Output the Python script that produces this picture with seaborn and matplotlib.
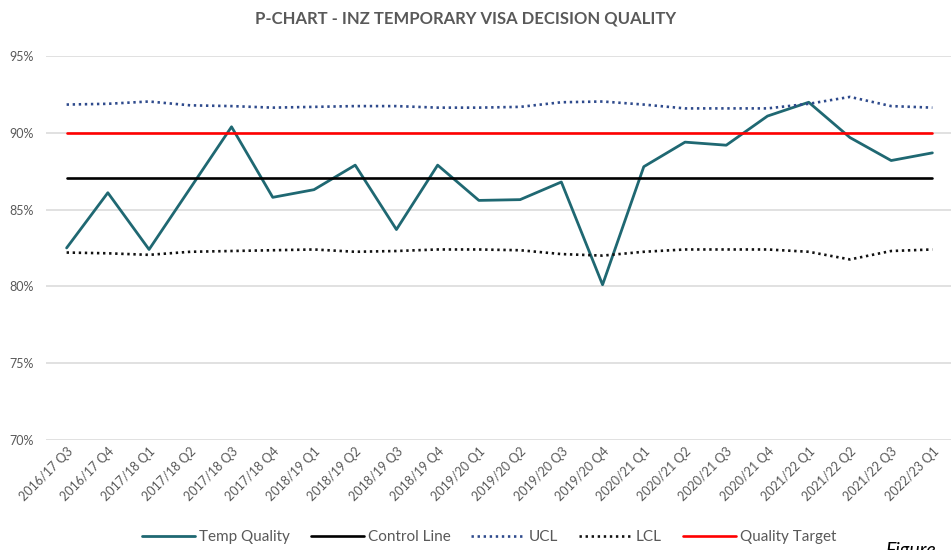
import matplotlib
matplotlib.use("Agg")
import matplotlib.pyplot as plt
import seaborn as sns
import pandas as pd
from matplotlib.ticker import FuncFormatter

quarters = ["2016/17 Q3", "2016/17 Q4", "2017/18 Q1", "2017/18 Q2", "2017/18 Q3", "2017/18 Q4",
            "2018/19 Q1", "2018/19 Q2", "2018/19 Q3", "2018/19 Q4", "2019/20 Q1", "2019/20 Q2",
            "2019/20 Q3", "2019/20 Q4", "2020/21 Q1", "2020/21 Q2", "2020/21 Q3", "2020/21 Q4",
            "2021/22 Q1", "2021/22 Q2", "2021/22 Q3", "2022/23 Q1"]
temp_quality = [82.5, 86.1, 82.4, 86.4, 90.4, 85.8, 86.3, 87.9, 83.7, 87.9, 85.6, 85.65,
                86.8, 80.1, 87.8, 89.4, 89.2, 91.1, 92.0, 89.7, 88.2, 88.7]
control_line = [87.05, 87.05, 87.05, 87.05, 87.05, 87.05, 87.05, 87.05, 87.05, 87.05, 87.05,
                87.05, 87.05, 87.05, 87.05, 87.05, 87.05, 87.05, 87.05, 87.05, 87.05, 87.05]
ucl = [91.85, 91.9, 92.05, 91.8, 91.75, 91.65, 91.7, 91.75, 91.75, 91.65, 91.65, 91.7,
       92.0, 92.05, 91.85, 91.6, 91.6, 91.6, 91.9, 92.35, 91.75, 91.65]
lcl = [82.2, 82.15, 82.05, 82.25, 82.3, 82.35, 82.4, 82.25, 82.3, 82.4, 82.4, 82.35,
       82.1, 82.0, 82.25, 82.4, 82.4, 82.4, 82.25, 81.75, 82.3, 82.4]
quality_target = [90.0, 90.0, 90.0, 90.0, 90.0, 90.0, 90.0, 90.0, 90.0, 90.0, 90.0,
                  90.0, 90.0, 90.0, 90.0, 90.0, 90.0, 90.0, 90.0, 90.0, 90.0, 90.0]
y_ticks = [70, 75, 80, 85, 90, 95]

title = "P-CHART - INZ TEMPORARY VISA DECISION QUALITY"

sns.set_theme(style="white")
plt.rcParams["font.family"] = ["Lato", "DejaVu Sans"]

df = pd.DataFrame({
    "Quarter": quarters,
    "Temp Quality": temp_quality,
    "Control Line": control_line,
    "UCL": ucl,
    "LCL": lcl,
    "Quality Target": quality_target,
})

grey = "#595959"
fig = plt.figure(figsize=(9.51, 5.5), dpi=100)
ax = fig.add_axes([46 / 951, 0.2007, (953 - 46) / 951, 0.697])

styles = [
    ("Temp Quality", dict(color="#1f6872", linewidth=2.0, linestyle="-")),
    ("Control Line", dict(color="#000000", linewidth=1.9, linestyle="-")),
    ("UCL", dict(color="#2e4a8c", linewidth=1.9, linestyle=(0, (0.9, 1.4)))),
    ("LCL", dict(color="#111111", linewidth=1.9, linestyle=(0, (0.9, 1.4)))),
    ("Quality Target", dict(color="#ff0000", linewidth=1.9, linestyle="-")),
]
for name, st in styles:
    sns.lineplot(data=df, x="Quarter", y=name, ax=ax, label=name, sort=False, **st)

ax.set_xlim(-0.5, len(quarters) - 0.5)
ax.set_ylim(70, 95)
ax.set_yticks(y_ticks)
ax.yaxis.set_major_formatter(FuncFormatter(lambda v, p: f"{v:.0f}%"))
ax.grid(axis="y", color="#d9d9d9", linewidth=1.1)
ax.grid(axis="x", visible=False)
for s in ax.spines.values():
    s.set_visible(False)
ax.set_xlabel("")
ax.set_ylabel("")
ax.tick_params(axis="y", length=0, pad=9, labelsize=9, labelcolor=grey)
ax.tick_params(axis="x", length=0, pad=4, labelsize=9, labelcolor=grey)
plt.setp(ax.get_xticklabels(), rotation=45, ha="right", rotation_mode="anchor")

handles, labels = ax.get_legend_handles_labels()
ax.get_legend().remove()
leg = fig.legend(handles, labels, loc="center", bbox_to_anchor=(489 / 951, 13 / 550), ncol=5,
                 frameon=False, fontsize=11, handlelength=3.5, handletextpad=0.25,
                 columnspacing=1.35)
for t in leg.get_texts():
    t.set_color(grey)

fig.text(466 / 951, 1 - 18 / 550, title, ha="center", va="center", fontsize=12,
         fontweight="bold", color=grey)
fig.text(885 / 951, -6 / 550, "Figure", ha="left", va="baseline", fontsize=14,
         style="italic", color="#000000")

fig.savefig("out.png", dpi=100, facecolor="white")
